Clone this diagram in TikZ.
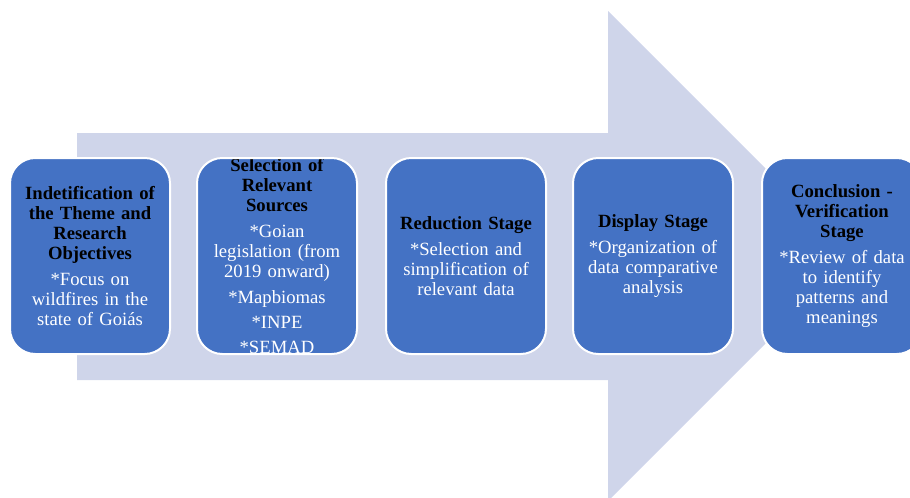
\documentclass[tikz,border=0pt]{standalone}
\usepackage{fontspec}
\setmainfont{Liberation Serif}
\definecolor{stageblue}{RGB}{68,114,196}
\definecolor{arrowlav}{RGB}{207,213,234}
\newcommand{\stagetitle}[1]{{\color{black}\bfseries #1\par}\vspace{5pt}}
\newcommand{\stagegap}{\par\vspace{4pt}}
\tikzset{
  stagetext/.style={align=center, text width=112pt, text=white, inner sep=0pt,
    font=\fontsize{14}{15}\selectfont},
  stage/.style={draw=white, line width=1.5pt, fill=stageblue, rounded corners=19pt,
    minimum width=120pt, minimum height=147pt, inner sep=0pt,
    path picture={\node[stagetext] at (path picture bounding box.center) {#1};}}
}
\begin{document}
\begin{tikzpicture}[x=0.75pt, y=-0.75pt]
\clip (0,0) rectangle (910,497);

% big background arrow
\fill[arrowlav] (77,133) -- (608,133) -- (608,11) -- (853,256) -- (608,501)
  -- (608,380) -- (77,380) -- cycle;

\node[stage={\stagetitle{Indetification of\\the Theme and\\Research\\Objectives}
  *Focus on\\wildfires in the\\state of Goiás}] (theme) at (90,256) {};
\node[stage={\stagetitle{Selection of\\Relevant\\Sources}
  *Goian\\legislation (from\\2019 onward)\stagegap
  *Mapbiomas\stagegap
  *INPE\stagegap
  *SEMAD}] (sources) at (277,256) {};
\node[stage={\stagetitle{Reduction Stage}
  *Selection and\\simplification of\\relevant data}] (reduction) at (466,256) {};
\node[stage={\stagetitle{Display Stage}
  *Organization of\\data comparative\\analysis}] (display) at (653,256) {};
\node[stage={\stagetitle{Conclusion -\\Verification\\Stage}
  *Review of data\\to identify\\patterns and\\meanings}] (conclusion) at (842,256) {};
\end{tikzpicture}
\end{document}
